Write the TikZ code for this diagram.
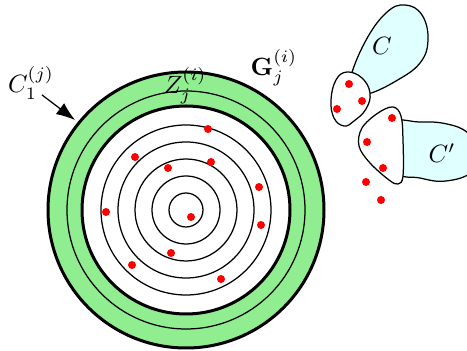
\documentclass[tikz,border=0pt]{standalone}
\usepackage{amsmath,amssymb}
\usepackage{xcolor}
\usetikzlibrary{arrows.meta,positioning,calc}

\definecolor{ringgreen}{RGB}{144,238,144}
\definecolor{blobcyan}{RGB}{224,255,255}

\begin{document}
\begin{tikzpicture}[x=0.4pt, y=-0.4pt,
    thickring/.style={draw=black, line width=1.2pt},
    thinring/.style={draw=black, line width=0.5pt},
    pt/.style={fill=red, draw=none},
    blob/.style={draw=black, line width=0.5pt, fill=white},
    cloud/.style={draw=black, line width=0.5pt, fill=blobcyan},
    lbl/.style={inner sep=0pt}]
    \clip (0,0) rectangle (467,351);

    % green band
    \fill[ringgreen, even odd rule] (186,210) circle (138) (186,210) circle (104);
    \draw[thickring] (186,210) circle (138);
    \draw[thinring] (186,210) circle (119);
    \draw[thickring] (186,210) circle (104);
    \foreach \r in {17,34,51,68,85}
        \draw[thinring] (186,210) circle (\r);

    % points inside
    \foreach \p in {(208,129),(135,157),(211,162),(168,168),(259,187),(106,212),
                    (191,217),(261,225),(171,253),(132,265),(221,279)}
        \fill[pt] \p circle (4);

    % clusters on the right
    \draw[cloud] plot[smooth cycle, tension=0.7] coordinates
        {(350,80) (365,42) (386,13) (405,5) (422,15) (428,40) (420,63) (396,81) (368,94) (355,92)};
    \draw[cloud] plot[smooth cycle, tension=0.7] coordinates
        {(392,125) (420,122) (447,124) (468,133) (480,152) (472,172) (446,181) (420,178) (396,170)};
    \draw[blob] plot[smooth cycle, tension=0.7] coordinates
        {(347,72) (362,78) (370,93) (366,109) (354,121) (344,126) (334,118) (331,100) (336,80)};
    \draw[blob] plot[smooth cycle, tension=0.6] coordinates
        {(393,107) (401,116) (403,140) (403,176) (398,184) (389,180) (370,163) (359,146) (362,128) (378,113)};
    \foreach \p in {(349,84),(362,101),(337,109),(392,118),(367,142),(383,168),(366,182),(381,200)}
        \fill[pt] \p circle (4);

    % labels
    \node[lbl] (Cone) at (31,83) {$C_1^{(j)}$};
    \node[lbl] (Zji) at (185,86) {$Z_j^{(i)}$};
    \node[lbl] (Gji) at (274,68) {$\mathbf{G}_j^{(i)}$};
    \node[lbl] (Cc) at (382,46) {$C$};
    \node[lbl] (Cp) at (442,153) {$C'$};

    \coordinate (tip) at (75,120);
    \draw[line width=0.5pt, -{Latex[length=7.5pt, width=5.5pt]}] ([xshift=-5pt, yshift=2pt]Cone.south east) -- (tip);
\end{tikzpicture}
\end{document}
